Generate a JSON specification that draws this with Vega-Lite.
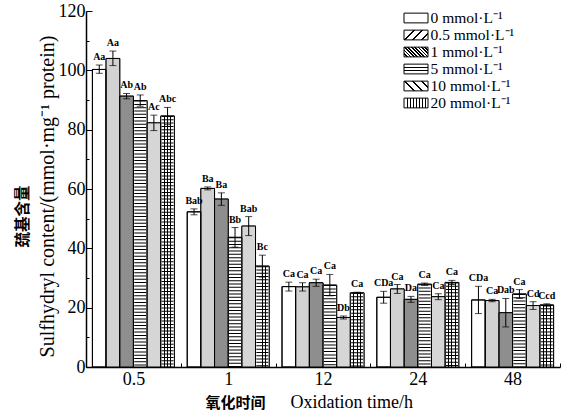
{
  "$schema": "https://vega.github.io/schema/vega-lite/v6.json",
  "width": 474,
  "height": 356,
  "autosize": "none",
  "padding": {"left": 86, "top": 11, "right": 2, "bottom": 46},
  "config": {
    "font": "Liberation Serif, Noto Sans CJK SC",
    "view": {"stroke": null},
    "axis": {"labelColor": "black", "titleColor": "black", "tickColor": "black", "domainColor": "black", "grid": false, "titleFontWeight": "normal"},
    "legend": {"symbolStrokeColor": "black", "symbolStrokeWidth": 1}
  },
  "data": {
    "values": [
      {"time": "0.5", "conc": "0 mmol·L⁻¹", "v": 100.3, "lo": 99.0, "hi": 101.8, "lab": "Aa"},
      {"time": "0.5", "conc": "0.5 mmol·L⁻¹", "v": 104.0, "lo": 101.6, "hi": 106.5, "lab": "Aa"},
      {"time": "0.5", "conc": "1 mmol·L⁻¹", "v": 91.3, "lo": 90.4, "hi": 92.2, "lab": "Ab"},
      {"time": "0.5", "conc": "5 mmol·L⁻¹", "v": 89.8, "lo": 87.9, "hi": 91.7, "lab": "Ab"},
      {"time": "0.5", "conc": "10 mmol·L⁻¹", "v": 82.3, "lo": 79.7, "hi": 84.9, "lab": "Ac"},
      {"time": "0.5", "conc": "20 mmol·L⁻¹", "v": 84.6, "lo": 81.7, "hi": 87.5, "lab": "Abc"},
      {"time": "1", "conc": "0 mmol·L⁻¹", "v": 52.3, "lo": 51.3, "hi": 53.3, "lab": "Bab"},
      {"time": "1", "conc": "0.5 mmol·L⁻¹", "v": 60.2, "lo": 59.7, "hi": 60.7, "lab": "Ba"},
      {"time": "1", "conc": "1 mmol·L⁻¹", "v": 56.6, "lo": 54.5, "hi": 58.7, "lab": "Ba"},
      {"time": "1", "conc": "5 mmol·L⁻¹", "v": 43.7, "lo": 40.4, "hi": 47.0, "lab": "Bb"},
      {"time": "1", "conc": "10 mmol·L⁻¹", "v": 47.5, "lo": 44.3, "hi": 50.7, "lab": "Bab"},
      {"time": "1", "conc": "20 mmol·L⁻¹", "v": 34.0, "lo": 30.3, "hi": 37.7, "lab": "Bc"},
      {"time": "12", "conc": "0 mmol·L⁻¹", "v": 27.1, "lo": 25.6, "hi": 28.6, "lab": "Ca"},
      {"time": "12", "conc": "0.5 mmol·L⁻¹", "v": 27.0, "lo": 25.6, "hi": 28.4, "lab": "Ca"},
      {"time": "12", "conc": "1 mmol·L⁻¹", "v": 28.4, "lo": 27.2, "hi": 29.6, "lab": "Ca"},
      {"time": "12", "conc": "5 mmol·L⁻¹", "v": 27.6, "lo": 24.0, "hi": 31.2, "lab": "Ca"},
      {"time": "12", "conc": "10 mmol·L⁻¹", "v": 16.7, "lo": 16.2, "hi": 17.2, "lab": "Db"},
      {"time": "12", "conc": "20 mmol·L⁻¹", "v": 25.0, "lo": 24.8, "hi": 25.2, "lab": "Ca"},
      {"time": "24", "conc": "0 mmol·L⁻¹", "v": 23.5, "lo": 21.5, "hi": 25.5, "lab": "CDa"},
      {"time": "24", "conc": "0.5 mmol·L⁻¹", "v": 26.3, "lo": 24.8, "hi": 27.8, "lab": "Ca"},
      {"time": "24", "conc": "1 mmol·L⁻¹", "v": 22.8, "lo": 21.8, "hi": 23.8, "lab": "Da"},
      {"time": "24", "conc": "5 mmol·L⁻¹", "v": 27.9, "lo": 27.5, "hi": 28.3, "lab": "Ca"},
      {"time": "24", "conc": "10 mmol·L⁻¹", "v": 23.7, "lo": 22.7, "hi": 24.7, "lab": "Ca"},
      {"time": "24", "conc": "20 mmol·L⁻¹", "v": 28.5, "lo": 27.8, "hi": 29.2, "lab": "Ca"},
      {"time": "48", "conc": "0 mmol·L⁻¹", "v": 22.6, "lo": 18.0, "hi": 27.2, "lab": "CDa"},
      {"time": "48", "conc": "0.5 mmol·L⁻¹", "v": 22.4, "lo": 22.0, "hi": 22.8, "lab": "Ca"},
      {"time": "48", "conc": "1 mmol·L⁻¹", "v": 18.3, "lo": 13.5, "hi": 23.1, "lab": "Dab"},
      {"time": "48", "conc": "5 mmol·L⁻¹", "v": 24.6, "lo": 23.1, "hi": 26.1, "lab": "Ca"},
      {"time": "48", "conc": "10 mmol·L⁻¹", "v": 20.7, "lo": 19.4, "hi": 22.0, "lab": "Cd"},
      {"time": "48", "conc": "20 mmol·L⁻¹", "v": 20.9, "lo": 20.5, "hi": 21.3, "lab": "Ccd"}
    ]
  },
  "resolve": {"axis": {"y": "independent", "x": "independent"}},
  "layer": [
    {
      "mark": {"type": "bar", "stroke": "black", "strokeWidth": 1},
      "encoding": {
        "x": {"field": "time", "type": "nominal", "sort": ["0.5", "1", "12", "24", "48"],
          "scale": {"paddingInner": 0, "paddingOuter": 0},
          "axis": {"orient": "bottom", "title": "Oxidation time/h", "tickBand": "extent", "tickSize": -4, "labelAngle": 0, "labelFontSize": 18, "labelPadding": 7, "titleFontSize": 18, "titleX": 204, "titleY": 40, "titleAlign": "left", "titleBaseline": "alphabetic", "domainWidth": 1.5}},
        "xOffset": {"field": "conc", "type": "nominal",
          "sort": ["0 mmol·L⁻¹", "0.5 mmol·L⁻¹", "1 mmol·L⁻¹", "5 mmol·L⁻¹", "10 mmol·L⁻¹", "20 mmol·L⁻¹"],
          "scale": {"paddingInner": 0, "paddingOuter": 0.47}},
        "y": {"field": "v", "type": "quantitative", "scale": {"domain": [0, 120], "nice": false},
          "axis": {"values": [0, 20, 40, 60, 80, 100, 120], "tickSize": -6, "labelFontSize": 18, "labelPadding": 7, "domainWidth": 1.5,
            "title": "Sulfhydryl content/(mmol·mg⁻¹ protein)", "titleFontSize": 20, "titleX": -39, "titleY": 185, "titleAngle": -90, "titleBaseline": "middle", "titleAlign": "center"}},
        "fill": {"field": "conc", "type": "nominal",
          "sort": ["0 mmol·L⁻¹", "0.5 mmol·L⁻¹", "1 mmol·L⁻¹", "5 mmol·L⁻¹", "10 mmol·L⁻¹", "20 mmol·L⁻¹"],
          "scale": {"range": [
            "#ffffff",
            {"expr": "{gradient:'linear',x1:0,y1:0,x2:1.207,y2:0.49,stops:[{offset:0,color:'#fff'},{offset:0.27,color:'#fff'},{offset:0.27,color:'#000'},{offset:0.33,color:'#000'},{offset:0.33,color:'#fff'},{offset:0.52,color:'#fff'},{offset:0.52,color:'#000'},{offset:0.58,color:'#000'},{offset:0.58,color:'#fff'},{offset:0.77,color:'#fff'},{offset:0.77,color:'#000'},{offset:0.83,color:'#000'},{offset:0.83,color:'#fff'},{offset:1,color:'#fff'}]}"},
            {"expr": "{gradient:'linear',x1:0,y1:1,x2:1.207,y2:0.51,stops:[{offset:0,color:'#fff'},{offset:0.08,color:'#fff'},{offset:0.08,color:'#000'},{offset:0.13,color:'#000'},{offset:0.13,color:'#fff'},{offset:0.18,color:'#fff'},{offset:0.18,color:'#000'},{offset:0.23,color:'#000'},{offset:0.23,color:'#fff'},{offset:0.28,color:'#fff'},{offset:0.28,color:'#000'},{offset:0.33,color:'#000'},{offset:0.33,color:'#fff'},{offset:0.38,color:'#fff'},{offset:0.38,color:'#000'},{offset:0.43,color:'#000'},{offset:0.43,color:'#fff'},{offset:0.48,color:'#fff'},{offset:0.48,color:'#000'},{offset:0.53,color:'#000'},{offset:0.53,color:'#fff'},{offset:0.58,color:'#fff'},{offset:0.58,color:'#000'},{offset:0.63,color:'#000'},{offset:0.63,color:'#fff'},{offset:0.68,color:'#fff'},{offset:0.68,color:'#000'},{offset:0.73,color:'#000'},{offset:0.73,color:'#fff'},{offset:0.78,color:'#fff'},{offset:0.78,color:'#000'},{offset:0.83,color:'#000'},{offset:0.83,color:'#fff'},{offset:0.88,color:'#fff'},{offset:0.88,color:'#000'},{offset:0.93,color:'#000'},{offset:0.93,color:'#fff'},{offset:1,color:'#fff'}]}"},
            {"expr": "{gradient:'linear',x1:0,y1:0,x2:0,y2:1,stops:[{offset:0,color:'#fff'},{offset:0.28,color:'#fff'},{offset:0.28,color:'#000'},{offset:0.38,color:'#000'},{offset:0.38,color:'#fff'},{offset:0.62,color:'#fff'},{offset:0.62,color:'#000'},{offset:0.72,color:'#000'},{offset:0.72,color:'#fff'},{offset:1,color:'#fff'}]}"},
            {"expr": "{gradient:'linear',x1:0,y1:1,x2:1.207,y2:0.51,stops:[{offset:0,color:'#fff'},{offset:0.27,color:'#fff'},{offset:0.27,color:'#000'},{offset:0.33,color:'#000'},{offset:0.33,color:'#fff'},{offset:0.52,color:'#fff'},{offset:0.52,color:'#000'},{offset:0.58,color:'#000'},{offset:0.58,color:'#fff'},{offset:0.77,color:'#fff'},{offset:0.77,color:'#000'},{offset:0.83,color:'#000'},{offset:0.83,color:'#fff'},{offset:1,color:'#fff'}]}"},
            {"expr": "{gradient:'linear',x1:0,y1:0,x2:1,y2:0,stops:[{offset:0,color:'#fff'},{offset:0.11,color:'#fff'},{offset:0.11,color:'#000'},{offset:0.15,color:'#000'},{offset:0.15,color:'#fff'},{offset:0.24,color:'#fff'},{offset:0.24,color:'#000'},{offset:0.28,color:'#000'},{offset:0.28,color:'#fff'},{offset:0.36,color:'#fff'},{offset:0.36,color:'#000'},{offset:0.4,color:'#000'},{offset:0.4,color:'#fff'},{offset:0.49,color:'#fff'},{offset:0.49,color:'#000'},{offset:0.53,color:'#000'},{offset:0.53,color:'#fff'},{offset:0.61,color:'#fff'},{offset:0.61,color:'#000'},{offset:0.65,color:'#000'},{offset:0.65,color:'#fff'},{offset:0.74,color:'#fff'},{offset:0.74,color:'#000'},{offset:0.78,color:'#000'},{offset:0.78,color:'#fff'},{offset:0.86,color:'#fff'},{offset:0.86,color:'#000'},{offset:0.9,color:'#000'},{offset:0.9,color:'#fff'},{offset:1,color:'#fff'}]}"}
          ]},
          "legend": {"title": null, "orient": "none", "legendX": 322, "legendY": -1,
            "symbolType": "M-1.6,-0.65H1.6V0.65H-1.6Z", "symbolSize": 225, "symbolStrokeColor": "black", "symbolStrokeWidth": 1,
            "labelFontSize": 15.5, "labelColor": "black", "labelOffset": 6.5, "rowPadding": -0.3, "symbolOpacity": 1}}
      }
    },
    {
      "transform": [{"filter": {"field": "conc", "oneOf": ["0.5 mmol·L⁻¹", "1 mmol·L⁻¹", "10 mmol·L⁻¹"]}}],
      "mark": {"type": "bar", "strokeWidth": 0},
      "encoding": {
        "x": {"field": "time", "type": "nominal", "sort": ["0.5", "1", "12", "24", "48"], "axis": null},
        "xOffset": {"field": "conc", "type": "nominal", "sort": ["0 mmol·L⁻¹", "0.5 mmol·L⁻¹", "1 mmol·L⁻¹", "5 mmol·L⁻¹", "10 mmol·L⁻¹", "20 mmol·L⁻¹"]},
        "y": {"field": "v", "type": "quantitative", "axis": null},
        "fill": {"condition": [{"test": "datum.conc === '0.5 mmol·L⁻¹'", "value": "#d2d2d2"}, {"test": "datum.conc === '1 mmol·L⁻¹'", "value": "#8e8e8e"}], "value": "#d6d6d6"}
      }
    },
    {
      "transform": [{"filter": "datum.conc === '5 mmol·L⁻¹'"}],
      "mark": {"type": "bar", "fill": "white", "strokeWidth": 0},
      "encoding": {
        "x": {"field": "time", "type": "nominal", "sort": ["0.5", "1", "12", "24", "48"], "axis": null},
        "xOffset": {"field": "conc", "type": "nominal", "sort": ["0 mmol·L⁻¹", "0.5 mmol·L⁻¹", "1 mmol·L⁻¹", "5 mmol·L⁻¹", "10 mmol·L⁻¹", "20 mmol·L⁻¹"]},
        "y": {"field": "v", "type": "quantitative", "axis": null}
      }
    },
    {
      "transform": [{"filter": "datum.conc === '20 mmol·L⁻¹'"}],
      "mark": {"type": "bar", "strokeWidth": 0,
        "fill": {"gradient": "linear", "x1": 0, "y1": 0, "x2": 1, "y2": 0, "stops": [
          {"offset": 0, "color": "white"}, {"offset": 0.22, "color": "white"}, {"offset": 0.22, "color": "black"}, {"offset": 0.29, "color": "black"},
          {"offset": 0.29, "color": "white"}, {"offset": 0.46, "color": "white"}, {"offset": 0.46, "color": "black"}, {"offset": 0.54, "color": "black"},
          {"offset": 0.54, "color": "white"}, {"offset": 0.71, "color": "white"}, {"offset": 0.71, "color": "black"}, {"offset": 0.78, "color": "black"},
          {"offset": 0.78, "color": "white"}, {"offset": 1, "color": "white"}]}},
      "encoding": {
        "x": {"field": "time", "type": "nominal", "sort": ["0.5", "1", "12", "24", "48"], "axis": null},
        "xOffset": {"field": "conc", "type": "nominal", "sort": ["0 mmol·L⁻¹", "0.5 mmol·L⁻¹", "1 mmol·L⁻¹", "5 mmol·L⁻¹", "10 mmol·L⁻¹", "20 mmol·L⁻¹"]},
        "y": {"field": "v", "type": "quantitative", "axis": null}
      }
    },
    {
      "transform": [{"filter": {"field": "conc", "oneOf": ["5 mmol·L⁻¹", "20 mmol·L⁻¹"]}}],
      "mark": {"type": "rule", "color": "black", "strokeWidth": 12, "strokeDash": [1, 2.3]},
      "encoding": {
        "x": {"field": "time", "type": "nominal", "sort": ["0.5", "1", "12", "24", "48"], "axis": null},
        "xOffset": {"field": "conc", "type": "nominal", "sort": ["0 mmol·L⁻¹", "0.5 mmol·L⁻¹", "1 mmol·L⁻¹", "5 mmol·L⁻¹", "10 mmol·L⁻¹", "20 mmol·L⁻¹"]},
        "y": {"field": "v", "type": "quantitative", "axis": null},
        "y2": {"datum": 0}
      }
    },
    {
      "mark": {"type": "bar", "fillOpacity": 0, "stroke": "black", "strokeWidth": 1},
      "encoding": {
        "x": {"field": "time", "type": "nominal", "sort": ["0.5", "1", "12", "24", "48"],
          "axis": {"orient": "bottom", "labels": false, "ticks": false, "domain": false, "title": "氧化时间", "titleFont": "Noto Sans CJK SC", "titleFontWeight": "bold", "titleFontSize": 15, "titleX": 119, "titleY": 40, "titleAlign": "left", "titleBaseline": "alphabetic"}},
        "xOffset": {"field": "conc", "type": "nominal", "sort": ["0 mmol·L⁻¹", "0.5 mmol·L⁻¹", "1 mmol·L⁻¹", "5 mmol·L⁻¹", "10 mmol·L⁻¹", "20 mmol·L⁻¹"]},
        "y": {"field": "v", "type": "quantitative",
          "axis": {"orient": "left", "values": [10, 30, 50, 70, 90, 110], "tickSize": -3, "labels": false, "domain": false,
            "title": "巯基含量", "titleFont": "Noto Sans CJK SC", "titleFontWeight": "bold", "titleFontSize": 15.5, "titleX": -64, "titleY": 205, "titleAngle": -90, "titleBaseline": "middle", "titleAlign": "center"}}
      }
    },
    {
      "mark": {"type": "rule", "color": "black", "strokeWidth": 1},
      "encoding": {
        "x": {"field": "time", "type": "nominal", "sort": ["0.5", "1", "12", "24", "48"], "axis": null},
        "xOffset": {"field": "conc", "type": "nominal", "sort": ["0 mmol·L⁻¹", "0.5 mmol·L⁻¹", "1 mmol·L⁻¹", "5 mmol·L⁻¹", "10 mmol·L⁻¹", "20 mmol·L⁻¹"]},
        "y": {"field": "lo", "type": "quantitative", "axis": null},
        "y2": {"field": "hi"}
      }
    },
    {
      "mark": {"type": "tick", "color": "black", "orient": "horizontal", "size": 7, "thickness": 1},
      "encoding": {
        "x": {"field": "time", "type": "nominal", "sort": ["0.5", "1", "12", "24", "48"], "axis": null},
        "xOffset": {"field": "conc", "type": "nominal", "sort": ["0 mmol·L⁻¹", "0.5 mmol·L⁻¹", "1 mmol·L⁻¹", "5 mmol·L⁻¹", "10 mmol·L⁻¹", "20 mmol·L⁻¹"]},
        "y": {"field": "hi", "type": "quantitative", "axis": null}
      }
    },
    {
      "mark": {"type": "tick", "color": "black", "orient": "horizontal", "size": 7, "thickness": 1},
      "encoding": {
        "x": {"field": "time", "type": "nominal", "sort": ["0.5", "1", "12", "24", "48"], "axis": null},
        "xOffset": {"field": "conc", "type": "nominal", "sort": ["0 mmol·L⁻¹", "0.5 mmol·L⁻¹", "1 mmol·L⁻¹", "5 mmol·L⁻¹", "10 mmol·L⁻¹", "20 mmol·L⁻¹"]},
        "y": {"field": "lo", "type": "quantitative", "axis": null}
      }
    },
    {
      "mark": {"type": "text", "font": "Liberation Serif", "fontWeight": "bold", "fontSize": 10, "baseline": "bottom", "dy": -3, "color": "black"},
      "encoding": {
        "x": {"field": "time", "type": "nominal", "sort": ["0.5", "1", "12", "24", "48"], "axis": null},
        "xOffset": {"field": "conc", "type": "nominal", "sort": ["0 mmol·L⁻¹", "0.5 mmol·L⁻¹", "1 mmol·L⁻¹", "5 mmol·L⁻¹", "10 mmol·L⁻¹", "20 mmol·L⁻¹"]},
        "y": {"field": "hi", "type": "quantitative", "axis": null},
        "text": {"field": "lab"}
      }
    }
  ]
}
